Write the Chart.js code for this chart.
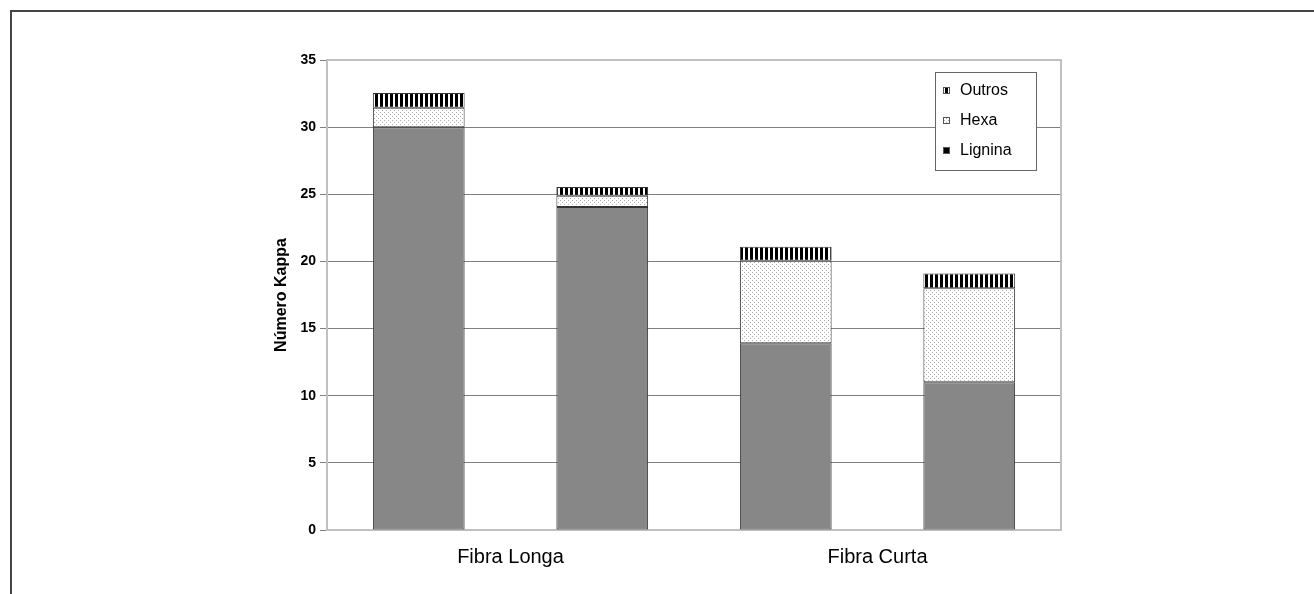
<!DOCTYPE html>
<html>
<head>
<meta charset="utf-8">
<script src="https://cdn.jsdelivr.net/npm/chart.js"></script>
<style>
    body { margin: 0; background: #fff; }
    #frame { position: absolute; left: 10px; top: 10px; right: 0; bottom: 0; border-top: 2px solid #444; border-left: 2px solid #444; }
    #grafico { position: absolute; left: 0; top: 0; }
</style>
</head>
<body>
<div id="frame"></div>
<canvas id="grafico" width="1314" height="594"></canvas>
<script>
const amostras = ["FL1", "FL2", "FC1", "FC2"];
const grupos = ["Fibra Longa", "Fibra Curta"];
const lignina = [30, 24.05, 13.9, 11];
const hexa = [1.45, 0.85, 6.15, 7];
const outros = [1.1, 0.65, 1.05, 1.1];

// padroes de preenchimento (listras e pontilhado)
function padraoListras() {
    const c = document.createElement("canvas");
    c.width = 5; c.height = 5;
    const ctx = c.getContext("2d");
    ctx.fillStyle = "#fff";
    ctx.fillRect(0, 0, 5, 5);
    ctx.fillStyle = "#000";
    ctx.fillRect(0, 0, 3, 5);
    return ctx.createPattern(c, "repeat");
}

function padraoPontos() {
    const c = document.createElement("canvas");
    c.width = 4; c.height = 4;
    const ctx = c.getContext("2d");
    ctx.fillStyle = "#fff";
    ctx.fillRect(0, 0, 4, 4);
    ctx.fillStyle = "#aaa";
    ctx.fillRect(0, 0, 1, 1);
    ctx.fillRect(2, 2, 1, 1);
    return ctx.createPattern(c, "repeat");
}

const listras = padraoListras();
const pontos = padraoPontos();

const bordaArea = {
    id: "bordaArea",
    beforeDatasetsDraw(chart) {
        const a = chart.chartArea;
        const ctx = chart.ctx;
        ctx.save();
        ctx.strokeStyle = "#c0c0c0";
        ctx.lineWidth = 2;
        ctx.strokeRect(a.left, a.top, a.right - a.left, a.bottom - a.top);
        ctx.restore();
    }
};

const legenda = {
    id: "legenda",
    afterDraw(chart) {
        const a = chart.chartArea;
        const ctx = chart.ctx;
        const x = a.right - 126, y = a.top + 12;
        ctx.save();
        ctx.fillStyle = "#fff";
        ctx.fillRect(x, y, 101, 98);
        ctx.strokeStyle = "#666";
        ctx.lineWidth = 1;
        ctx.strokeRect(x + 0.5, y + 0.5, 101, 98);
        const itens = [
            { texto: "Outros", cor: listras },
            { texto: "Hexa", cor: pontos },
            { texto: "Lignina", cor: "#000" }
        ];
        ctx.font = "16px 'Liberation Sans', Arial, sans-serif";
        ctx.textBaseline = "middle";
        itens.forEach((it, i) => {
            const cy = y + 19 + i * 30;
            ctx.fillStyle = it.cor;
            ctx.fillRect(x + 8, cy - 4, 7, 7);
            ctx.strokeStyle = "#555";
            ctx.strokeRect(x + 8.5, cy - 3.5, 6, 6);
            ctx.fillStyle = "#000";
            ctx.fillText(it.texto, x + 25, cy);
        });
        ctx.restore();
    }
};

new Chart(document.getElementById("grafico"), {
    type: "bar",
    data: {
        labels: amostras,
        datasets: [
            { label: "Lignina", data: lignina, backgroundColor: "#878787" },
            { label: "Hexa", data: hexa, backgroundColor: pontos },
            { label: "Outros", data: outros, backgroundColor: listras }
        ]
    },
    options: {
        responsive: false,
        animation: false,
        layout: { padding: { left: 272, right: 253, top: 60, bottom: 0 } },
        datasets: {
            bar: {
                categoryPercentage: 1,
                barPercentage: 0.5,
                borderColor: "#333",
                borderWidth: 1,
                borderSkipped: false
            }
        },
        plugins: {
            legend: { display: false },
            tooltip: { enabled: false }
        },
        scales: {
            x: {
                stacked: true,
                display: false
            },
            x2: {
                type: "category",
                labels: grupos,
                position: "bottom",
                offset: true,
                grid: { display: false },
                border: { display: false },
                ticks: {
                    color: "#000",
                    padding: 7,
                    font: { family: "'Liberation Sans', Arial, sans-serif", size: 20 }
                },
                afterFit(scale) { scale.height = 64; }
            },
            y: {
                stacked: true,
                min: 0,
                max: 35,
                ticks: {
                    stepSize: 5,
                    color: "#000",
                    padding: 4,
                    font: { family: "'Liberation Sans', Arial, sans-serif", size: 14, weight: "bold" }
                },
                grid: { color: "#808080", lineWidth: 1, tickLength: 7 },
                border: { display: false },
                title: {
                    display: true,
                    text: "Número Kappa",
                    color: "#000",
                    padding: 0,
                    font: { family: "'Liberation Sans', Arial, sans-serif", size: 16, weight: "bold" }
                },
                afterFit(scale) { scale.width = 55; }
            }
        }
    },
    plugins: [bordaArea, legenda]
});
</script>
</body>
</html>
